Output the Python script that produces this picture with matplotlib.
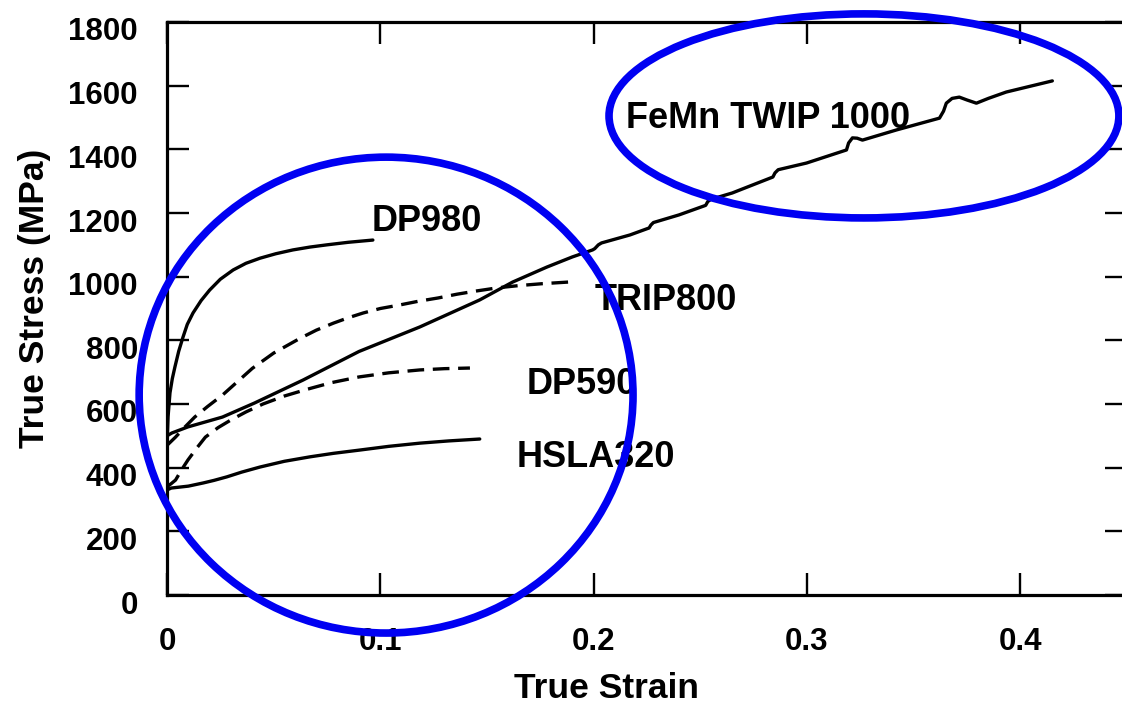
import matplotlib
matplotlib.use("Agg")
import matplotlib.pyplot as plt
from matplotlib.patches import Ellipse
from matplotlib.transforms import ScaledTranslation

plt.rcParams['font.family'] = ['Liberation Sans', 'DejaVu Sans']
plt.rcParams['font.weight'] = 'bold'

# --- true stress / true strain curves -------------------------------------
dp980_strain = [0.0, 0.0005, 0.0014, 0.0025, 0.0037, 0.0055, 0.0075, 0.0095,
                0.0122, 0.016, 0.020, 0.025, 0.031, 0.037, 0.0436, 0.051,
                0.059, 0.067, 0.075, 0.085, 0.0965]
dp980_stress = [470, 560, 635, 680, 716, 766, 810, 850,
                886, 925, 958, 992, 1021, 1042, 1058, 1072,
                1084, 1093, 1100, 1108, 1115]

trip800_strain = [0.0, 0.004, 0.008, 0.013, 0.019, 0.026, 0.033, 0.040, 0.050,
                  0.062, 0.070, 0.078, 0.085, 0.092, 0.100, 0.109, 0.118,
                  0.127, 0.136, 0.145, 0.155, 0.165, 0.176, 0.188]
trip800_stress = [470, 496, 525, 559, 592, 628, 670, 712, 760,
                  805, 832, 854, 871, 886, 900, 911, 923,
                  933, 945, 955, 965, 972, 978, 983]

dp590_strain = [0.0, 0.002, 0.004, 0.007, 0.0098, 0.014, 0.018, 0.024, 0.030,
                0.037, 0.045, 0.055, 0.065, 0.077, 0.090, 0.104, 0.1185,
                0.130, 0.142]
dp590_stress = [340, 350, 361, 395, 424, 462, 496, 526, 550,
                575, 600, 625, 645, 667, 685, 698, 707,
                711, 713]

hsla320_strain = [0.0, 0.002, 0.010, 0.017, 0.022, 0.028, 0.035, 0.0436, 0.055,
                  0.067, 0.078, 0.090, 0.104, 0.1185, 0.132, 0.1466]
hsla320_stress = [330, 336, 342, 352, 360, 371, 386, 402, 420,
                  434, 445, 455, 467, 477, 484, 490]

twip_strain = [0.0, 0.0023, 0.0098, 0.026, 0.041, 0.0637, 0.090, 0.1185, 0.1466,
               0.162, 0.178, 0.190, 0.1995, 0.2005, 0.2022, 0.2037, 0.217, 0.226,
               0.2268, 0.2280, 0.240, 0.2525, 0.2535, 0.2550, 0.265, 0.2684,
               0.284, 0.2850, 0.2865, 0.2998, 0.3185, 0.3195, 0.3213, 0.3235,
               0.326, 0.342, 0.3621, 0.3640, 0.3653, 0.3680, 0.3714, 0.3750,
               0.3794, 0.3850, 0.3934, 0.415]
twip_stress = [500, 509, 528, 559, 603, 675, 765, 842, 927,
               983, 1030, 1062, 1084, 1088, 1100, 1106, 1131, 1153,
               1162, 1170, 1194, 1224, 1236, 1243, 1263, 1272,
               1313, 1326, 1336, 1357, 1398, 1420, 1436, 1435,
               1429, 1461, 1498, 1520, 1545, 1560, 1564, 1555,
               1545, 1560, 1580, 1615]

# curve labels: (text, strain, stress at baseline)
curve_labels = ["DP980", "TRIP800", "DP590", "HSLA320", "FeMn TWIP 1000"]
label_strain = [0.0961, 0.2006, 0.1687, 0.1640, 0.2151]
label_stress = [1145, 896, 632, 402, 1467]

x_ticks = [0.0, 0.1, 0.2, 0.3, 0.4]
x_tick_labels = ["0", "0.1", "0.2", "0.3", "0.4"]
y_ticks = list(range(0, 1801, 200))
y_tick_labels = [str(v) for v in y_ticks]

# highlight ellipses: (centre strain, centre stress, width, height)
highlight_centres = [(0.1027, 628), (0.3267, 1505)]
highlight_sizes = [(0.2315, 1495), (0.239, 641)]

# --- figure -----------------------------------------------------------------
W, H = 1122, 706
fig = plt.figure(figsize=(W / 100, H / 100), dpi=100)
ax = fig.add_axes([167 / W, 111 / H, 960 / W, 573 / H])
ax.set_xlim(0, 0.45)
ax.set_ylim(0, 1800)

line_kw = dict(color="black", lw=2.4, solid_joinstyle="round",
               solid_capstyle="round", dash_capstyle="butt",
               dash_joinstyle="round")
dashes = (0, (5, 2.6))
ax.plot(dp980_strain, dp980_stress, **line_kw)
ax.plot(hsla320_strain, hsla320_stress, **line_kw)
ax.plot(twip_strain, twip_stress, **line_kw)
ax.plot(trip800_strain, trip800_stress, linestyle=dashes, **line_kw)
ax.plot(dp590_strain, dp590_stress, linestyle=dashes, **line_kw)

for txt, sx, sy in zip(curve_labels, label_strain, label_stress):
    ax.text(sx, sy, txt, fontsize=26, fontweight="bold", ha="left",
            va="baseline", color="black")

for (cx, cy), (w, h) in zip(highlight_centres, highlight_sizes):
    ax.add_patch(Ellipse((cx, cy), w, h, fill=False, edgecolor="#0000f2",
                         lw=5.5, clip_on=False, zorder=10))

# axes styling
for sp in ax.spines.values():
    sp.set_linewidth(2.3)
ax.set_xticks(x_ticks)
ax.set_xticklabels(x_tick_labels)
ax.set_yticks(y_ticks)
ax.set_yticklabels(y_tick_labels)
ax.tick_params(direction="in", length=16, width=1.7, top=True, right=True,
               labelsize=22.5)
ax.tick_params(axis="x", pad=23)
ax.tick_params(axis="y", pad=21)
shift = ScaledTranslation(0, -7 / 100, fig.dpi_scale_trans)
for lab in ax.get_yticklabels():
    lab.set_transform(lab.get_transform() + shift)
    lab.set_fontweight("bold")
for lab in ax.get_xticklabels():
    lab.set_fontweight("bold")

ax.set_xlabel("True Strain", fontsize=25.5, fontweight="bold", va="center")
ax.xaxis.set_label_coords((607 - 167) / 960, (595 - 688) / 573)
ax.set_ylabel("True Stress (MPa)", fontsize=25.5, fontweight="bold", va="center")
ax.yaxis.set_label_coords((35 - 167) / 960, (595 - 298) / 573)

fig.savefig("out.png", dpi=100)
